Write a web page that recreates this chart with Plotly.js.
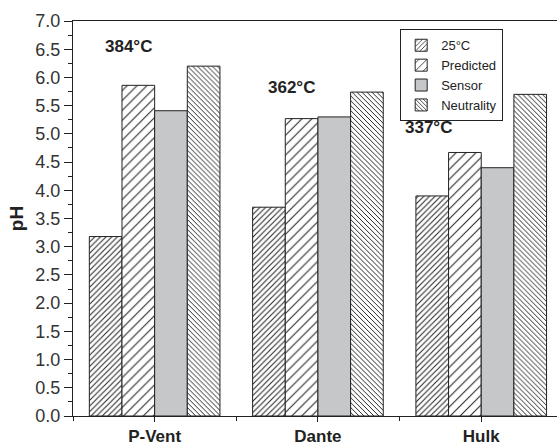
<!DOCTYPE html>
<html>
<head>
<meta charset="utf-8">
<script src="https://cdn.plot.ly/plotly-3.0.1.min.js"></script>
<style>html,body{margin:0;padding:0;background:#fff;}#chart{width:557px;height:446px;}</style>
</head>
<body>
<div id="chart"></div>
<script>
const categories = ["P-Vent", "Dante", "Hulk"];
const seriesNames = ["25°C", "Predicted", "Sensor", "Neutrality"];
const ph25C = [3.18, 3.70, 3.90];
const phPredicted = [5.86, 5.27, 4.67];
const phSensor = [5.41, 5.30, 4.40];
const phNeutrality = [6.20, 5.74, 5.70];
const tempLabels = ["384°C", "362°C", "337°C"];
const yTicks = [0, 0.5, 1, 1.5, 2, 2.5, 3, 3.5, 4, 4.5, 5, 5.5, 6, 6.5, 7];

const xIdx = categories.map((c, i) => i);
const font = "Liberation Sans, Arial, sans-serif";
const line = {color: "#222", width: 1};

const styles = [
  {pattern: {shape: "/", size: 4, solidity: 0.25, fgcolor: "#222", bgcolor: "#fff"}},
  {pattern: {shape: "/", size: 7, solidity: 0.15, fgcolor: "#222", bgcolor: "#fff"}},
  {color: "#c6c7c9"},
  {pattern: {shape: "\\", size: 3.5, solidity: 0.28, fgcolor: "#222", bgcolor: "#fff"}}
];
const values = [ph25C, phPredicted, phSensor, phNeutrality];

const traces = values.map((v, k) => {
  const marker = Object.assign({line: line}, styles[k].color ? {color: styles[k].color} : {color: "#fff", pattern: styles[k].pattern});
  return {type: "bar", name: seriesNames[k], x: xIdx, y: v, marker: marker, hoverinfo: "skip"};
});

const annPos = [[-0.158, 6.54], [0.84, 5.83], [1.68, 5.11]];
const annotations = tempLabels.map((t, i) => ({
  text: "<b>" + t + "</b>", x: annPos[i][0], y: annPos[i][1], xref: "x", yref: "y",
  showarrow: false, font: {family: font, size: 17, color: "#222"}
}));

const layout = {
  width: 557, height: 446,
  margin: {l: 73, r: 0, t: 21, b: 30},
  paper_bgcolor: "#fff", plot_bgcolor: "#fff",
  barmode: "group", bargap: 0.2, bargroupgap: 0,
  showlegend: true,
  legend: {x: 0.676, y: 0.979, xanchor: "left", yanchor: "top", bgcolor: "#fff",
    bordercolor: "#222", borderwidth: 1, font: {family: font, size: 13, color: "#222"},
    tracegroupgap: 0, itemwidth: 30},
  xaxis: {
    range: [-0.5, 2.464], tickvals: xIdx, ticktext: categories.map(c => "<b>" + c + "</b>"),
    ticks: "outside", ticklen: 5, tickcolor: "#222", showgrid: false, zeroline: false,
    showline: true, linecolor: "#222", linewidth: 1, mirror: true,
    tickfont: {family: font, size: 17, color: "#222"},
    minor: {tickvals: [-0.5, 0.5, 1.5], ticks: "outside", ticklen: 4, tickcolor: "#222", showgrid: false}
  },
  yaxis: {
    range: [0, 7], tickvals: yTicks, tickformat: ".1f",
    ticks: "outside", ticklen: 8, tickcolor: "#222", showgrid: false, zeroline: false,
    showline: true, linecolor: "#222", linewidth: 1,
    tickfont: {family: font, size: 18, color: "#333"},
    minor: {dtick: 0.25, tick0: 0, ticks: "outside", ticklen: 4, tickcolor: "#222", showgrid: false},
    title: {text: "<b>pH</b>", font: {family: font, size: 19, color: "#222"}, standoff: 6}
  },
  annotations: annotations
};

Plotly.newPlot("chart", traces, layout, {displayModeBar: false, staticPlot: true});
</script>
</body>
</html>
